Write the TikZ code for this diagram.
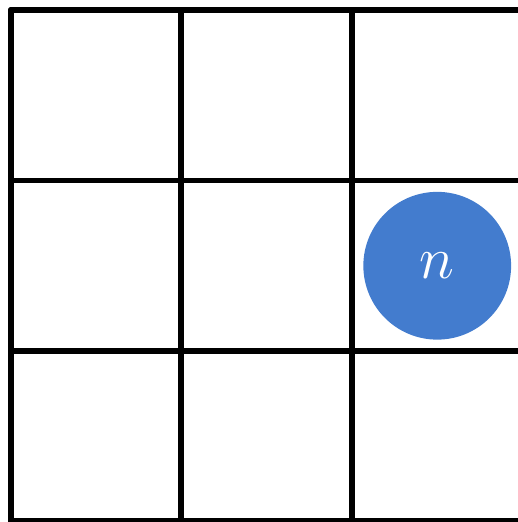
\documentclass[tikz,border=0pt]{standalone}
\definecolor{cellblue}{RGB}{67,124,206}
\tikzset{
  gridline/.style={line width=3pt,line cap=round,line join=round},
  token/.style={circle,fill=cellblue,text=white,minimum size=2.6cm,inner sep=0pt,
    font=\fontsize{24.88}{30}\selectfont}
}
\begin{document}
\begin{tikzpicture}[x=3cm,y=3cm]
  \useasboundingbox (-.0645,-.003) rectangle (2.9736,3.0587);
  % board
  \draw[gridline,step=3cm] (0,0) grid (3,3);
  \draw[gridline] (0,0) rectangle (3,3);
  % piece
  \node[token] (n) at (2.5,1.5) {\scalebox{1.2}{\(n\)}};
\end{tikzpicture}
\end{document}
